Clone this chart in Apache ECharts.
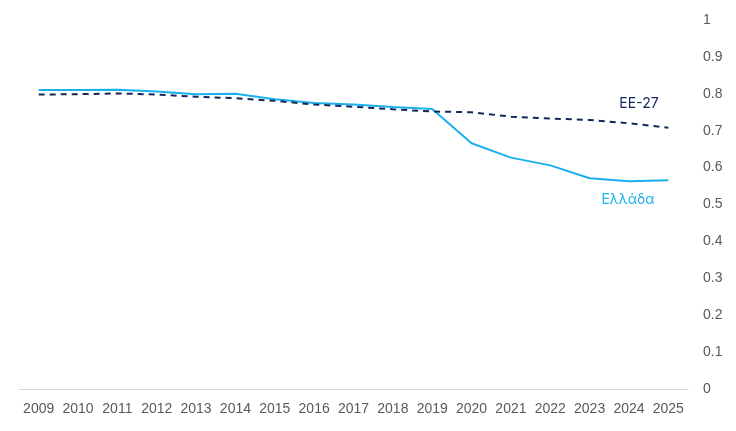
<!DOCTYPE html>
<html><head><meta charset="utf-8">
<script src="https://cdn.jsdelivr.net/npm/echarts@6/dist/echarts.min.js"></script>
<style>html,body{margin:0;padding:0;background:#fff}#c{width:736px;height:431px}</style>
</head><body><div id="c"></div>
<script>
const years = ['2009','2010','2011','2012','2013','2014','2015','2016','2017','2018','2019','2020','2021','2022','2023','2024','2025'];
const greece = [0.810,0.810,0.811,0.806,0.799,0.800,0.785,0.775,0.771,0.764,0.759,0.666,0.627,0.606,0.571,0.563,0.566];
const eu27 = [0.798,0.799,0.801,0.798,0.792,0.788,0.781,0.771,0.765,0.758,0.752,0.750,0.738,0.733,0.729,0.720,0.708];
const yTicks = [0,0.1,0.2,0.3,0.4,0.5,0.6,0.7,0.8,0.9,1];
const greeceName = 'Ελλάδα';
const euName = 'EE-27';

const chart = echarts.init(document.getElementById('c'));
chart.setOption({
  animation:false,
  grid:{left:19,right:48,top:20,bottom:42},
  xAxis:{type:'category',data:years,boundaryGap:true,
    axisLine:{show:true,lineStyle:{color:'#d9d9d9'}},axisTick:{show:false},
    axisLabel:{color:'#595959',fontSize:14,fontFamily:'Liberation Sans, Arial',margin:13,interval:0}},
  yAxis:{type:'value',position:'right',min:0,max:1,interval:0.1,
    splitLine:{show:false},axisLine:{show:false},axisTick:{show:false},
    axisLabel:{color:'#595959',fontSize:14,fontFamily:'Liberation Sans, Arial',margin:15,
      formatter:v=>String(Math.round(v*10)/10)}},
  series:[
    {name:greeceName,type:'line',data:greece,symbol:'none',smooth:false,
      lineStyle:{color:'#1ab0ef',width:2},
      markPoint:{symbol:'circle',symbolSize:0,itemStyle:{color:'rgba(0,0,0,0)'},
        data:[{coord:['2024',0.563],label:{show:true,position:'inside',formatter:greeceName,color:'#1ab0ef',fontSize:14,fontFamily:'Inter, sans-serif',offset:[-1,19]}}]}},
    {name:euName,type:'line',data:eu27,symbol:'none',
      lineStyle:{color:'#10285c',width:2,type:[6,5]},
      markPoint:{symbol:'circle',symbolSize:0,itemStyle:{color:'rgba(0,0,0,0)'},
        data:[{coord:['2024',0.720],label:{show:true,position:'inside',formatter:euName,color:'#10285c',fontSize:14,fontFamily:'Inter, sans-serif',offset:[10,-20]}}]}}
  ]
});
</script></body></html>
